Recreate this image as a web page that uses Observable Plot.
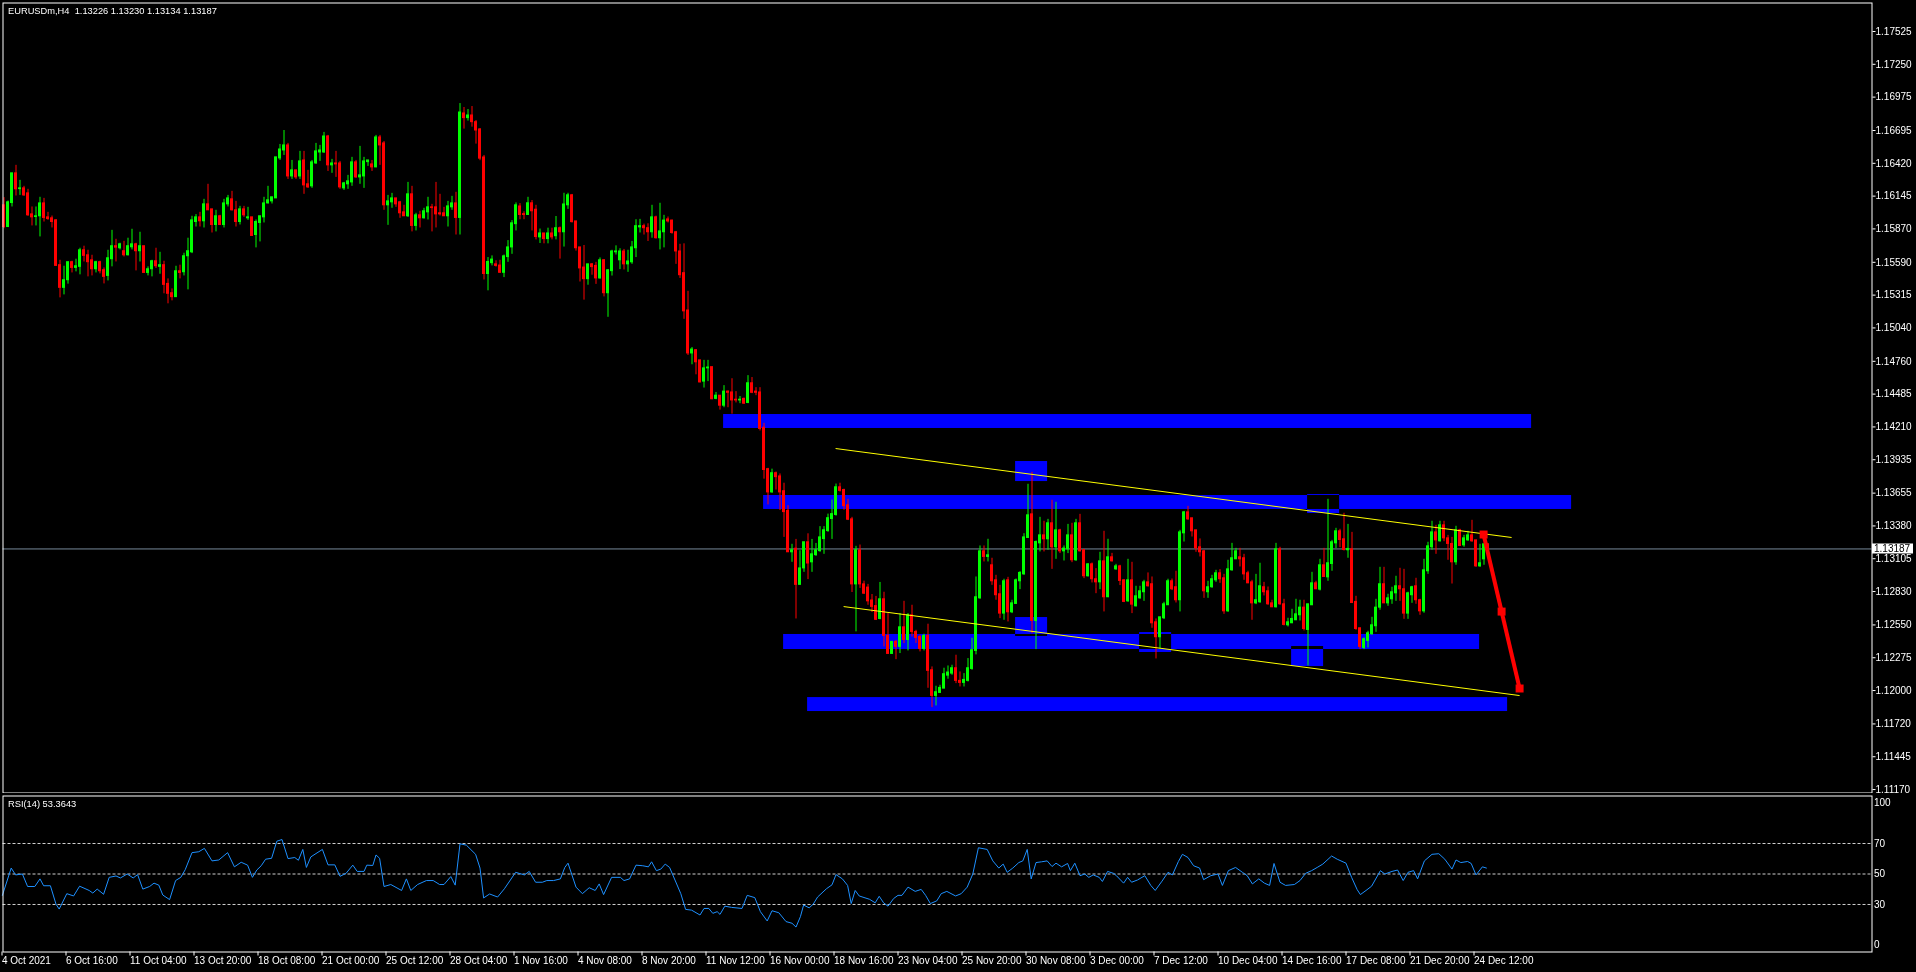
<!DOCTYPE html>
<html><head><meta charset="utf-8">
<script src="https://cdn.jsdelivr.net/npm/d3@7"></script>
<script src="https://cdn.jsdelivr.net/npm/@observablehq/plot@0.6"></script>
<style>
html,body{margin:0;padding:0;background:#000;}
#wrap{position:relative;width:1916px;height:972px;background:#000;overflow:hidden;}
#main,#rsi{position:absolute;left:0;}
#main{top:0;} #rsi{top:793px;}
svg text{white-space:pre;}
</style></head><body>
<div id="wrap"><div id="main"></div><div id="rsi"></div></div>
<script>
// ---------- DATA ----------
const symbolTitle = "EURUSDm,H4  1.13226 1.13230 1.13134 1.13187";
const rsiTitle = "RSI(14) 53.3643";
const currentPrice = 1.13187;

const priceTicks = [1.17525,1.17250,1.16975,1.16695,1.16420,1.16145,1.15870,1.15590,1.15315,1.15040,1.14760,1.14485,1.14210,1.13935,1.13655,1.13380,1.13105,1.12830,1.12550,1.12275,1.12000,1.11720,1.11445,1.11170];
const rsiLevels = [30, 50, 70];
const dateTickBars = [0,16,32,48,64,80,96,112,128,144,160,176,192,208,224,240,256,272,288,304,320,336,352,368];
const dateTickLabels = ["4 Oct 2021","6 Oct 16:00","11 Oct 04:00","13 Oct 20:00","18 Oct 08:00","21 Oct 00:00","25 Oct 12:00","28 Oct 04:00","1 Nov 16:00","4 Nov 08:00","8 Nov 20:00","11 Nov 12:00","16 Nov 00:00","18 Nov 16:00","23 Nov 04:00","25 Nov 20:00","30 Nov 08:00","3 Dec 00:00","7 Dec 12:00","10 Dec 04:00","14 Dec 16:00","17 Dec 08:00","21 Dec 20:00","24 Dec 12:00"];

// H4 candles, prices in points (1e-5)
const openPts = [
116068,115886,116087,116336,116204,116210,116168,115992,115970,115976,
116084,115967,115959,115942,115566,115376,115440,115591,115543,115552,
115691,115649,115607,115532,115591,115524,115476,115616,115725,115708,
115683,115649,115716,115741,115683,115725,115501,115532,115599,115552,
115566,115409,115331,115298,115515,115507,115641,115674,115928,115967,
115934,116076,116034,115903,115976,115903,116076,116118,116026,115928,
116034,115959,115967,115819,115920,115967,116084,116101,116126,116461,
116528,116570,116310,116361,116310,116444,116244,116227,116419,116511,
116511,116645,116403,116419,116419,116210,116244,116260,116428,116302,
116310,116430,116411,116386,116637,116587,116068,116093,116126,116093,
116009,115976,116160,115895,115984,115959,116009,116051,116051,116001,
116001,115976,116051,116084,115962,116838,116799,116821,116765,116704,
116469,115492,115583,115573,115563,115502,115634,115715,115910,116058,
115994,115987,116085,116031,115799,115832,115785,115832,115809,115876,
115842,116068,116152,115933,115715,115546,115449,115573,115560,115455,
115607,115331,115516,115674,115607,115681,115573,115590,115708,115883,
115893,115876,115842,115967,115792,115842,115950,115940,115842,115681,
115499,115186,114826,114853,114768,114590,114701,114711,114445,114472,
114388,114506,114499,114438,114432,114445,114411,114576,114506,114499,
114203,113856,113661,113822,113795,113671,113506,113159,113189,112886,
113024,113243,113075,113135,113169,113270,113337,113438,113472,113704,
113681,113553,113435,112890,113176,112890,112863,112755,112708,112600,
112765,112458,112307,112408,112366,112530,112424,112631,112491,112449,
112349,112458,112170,111955,111980,112016,112125,112142,112187,112081,
112064,112081,112181,112332,112773,113167,113120,113050,112924,112807,
112645,112924,112656,112726,112916,112974,113279,113477,112583,113234,
113301,113268,113402,113201,113343,113167,113184,113301,113092,113402,
113176,112958,113058,112933,112907,113083,112782,113117,113016,113041,
112924,112748,112924,112706,112773,112824,112907,112891,112572,112447,
112606,112715,112916,112866,112757,113318,113494,113444,113343,113201,
113167,112824,112866,112924,112983,112941,112664,113008,113100,113117,
113109,112983,112907,112731,112740,112866,112832,112731,112698,113184,
112723,112547,112564,112589,112631,112695,112508,112715,112899,112846,
113050,112949,113061,113234,113335,113268,113176,113184,112743,112522,
112357,112416,112472,112539,112695,112891,112731,112765,112815,112874,
112849,112645,112799,112874,112757,112664,113000,113201,113326,113251,
113385,113276,113229,113075,113343,113217,113259,113301,113259,113041,
113100,113226];
const highPts = [
116132,116104,116336,116403,116277,116227,116202,116054,116054,116135,
116126,116009,115978,115948,115607,115557,115591,115599,115616,115708,
115725,115691,115649,115599,115599,115543,115691,115858,115783,115750,
115766,115792,115867,115750,115842,115725,115552,115607,115708,115674,
115599,115451,115367,115557,115566,115666,115792,115976,115990,116009,
116118,116244,116034,116026,115984,116118,116151,116185,116101,116059,
116059,116051,115967,115945,115976,116135,116227,116135,116470,116578,
116695,116587,116444,116361,116520,116520,116361,116444,116587,116570,
116679,116654,116453,116520,116436,116260,116319,116470,116444,116562,
116470,116444,116444,116654,116654,116603,116151,116168,116126,116101,
116068,116260,116227,116001,116018,116043,116135,116076,116260,116160,
116051,116101,116143,116177,116921,116888,116871,116896,116779,116711,
116486,115630,115644,115603,115607,115651,115772,115940,116088,116082,
116014,116135,116108,116068,115869,115832,115876,115876,115974,115886,
116169,116169,116159,115933,115715,115731,115573,115580,115590,115627,
115613,115529,115691,115728,115704,115698,115691,115765,115947,115950,
115910,115913,116068,115977,116085,115984,115970,115943,115849,115741,
115745,115347,114876,114859,114768,114768,114768,114711,114499,114472,
114556,114512,114614,114506,114465,114452,114640,114624,114539,114539,
114240,113863,113856,113832,113816,113738,113550,113226,113267,113172,
113243,113314,113267,113233,113374,113374,113479,113597,113731,113738,
113688,113603,113452,113209,113220,112917,112890,112805,112789,112906,
112824,112645,112408,112421,112645,112748,112645,112715,112505,112463,
112472,112556,112198,112036,112044,112187,112206,112212,112296,112156,
112142,112268,112438,112952,113212,113212,113268,113109,112966,112882,
112933,112949,112757,112935,112997,113315,113729,113829,113254,113452,
113419,113435,113595,113578,113352,113212,113393,113402,113435,113477,
113184,113064,113069,113022,113159,113335,113268,113150,113058,113050,
112930,113100,113075,112874,112874,112924,112986,112952,112600,112614,
112740,112933,112935,113000,113343,113502,113544,113444,113343,113271,
113176,112916,112966,113008,113014,112974,113092,113234,113192,113192,
113142,113000,112924,112974,113067,112907,112868,112757,113234,113201,
112765,112606,112681,112765,112757,112757,112723,112991,112916,113100,
113192,113603,113259,113360,113352,113486,113393,113326,112790,112522,
112441,112497,112614,112765,113033,113033,112807,112866,112958,113025,
113016,112824,112874,112941,112765,113100,113243,113419,113385,113419,
113419,113301,113284,113377,113352,113301,113335,113427,113259,113226,
113226,113230];
const lowPts = [
115872,115881,116054,116146,116151,116143,115976,115895,115895,115803,
115928,115942,115878,115557,115292,115317,115407,115501,115510,115485,
115593,115468,115476,115501,115493,115409,115434,115552,115593,115694,
115635,115644,115694,115518,115593,115496,115476,115468,115538,115490,
115326,115242,115267,115298,115451,115476,115359,115663,115886,115886,
115878,116026,115836,115845,115898,115878,116054,116020,115886,115903,
115967,115942,115808,115711,115761,115920,116079,116079,116126,116444,
116486,116285,116285,116285,116285,116160,116210,116210,116411,116436,
116503,116352,116336,116302,116202,116193,116202,116227,116294,116244,
116210,116394,116352,116383,116403,116026,115900,116043,116051,115959,
115976,115967,115845,115853,115878,115953,115945,115845,115878,115978,
115976,115886,116026,115819,115819,116707,116774,116723,116581,116442,
115442,115351,115560,115550,115499,115462,115590,115657,115853,115947,
115947,115984,115853,115778,115748,115745,115745,115778,115778,115617,
115718,116034,115920,115684,115425,115273,115398,115482,115405,115449,
115300,115129,115475,115651,115529,115526,115506,115573,115630,115836,
115819,115765,115792,115785,115694,115711,115920,115826,115573,115455,
115112,114809,114731,114647,114580,114536,114590,114438,114438,114351,
114371,114371,114317,114411,114405,114398,114405,114489,114472,114176,
113772,113556,113654,113681,113509,113284,113159,113075,112600,112886,
112991,112930,112991,113125,113159,113142,113327,113267,113462,113664,
113512,113425,112822,112492,112856,112805,112715,112654,112587,112593,
112366,112304,112304,112259,112310,112394,112332,112449,112394,112324,
112332,112019,111857,111871,111975,112016,112095,112128,112058,112030,
112030,112072,112170,112299,112765,113078,113078,112882,112757,112603,
112589,112575,112645,112723,112846,112966,113276,112477,112343,113162,
113162,113176,113016,113100,113148,113086,113148,113072,113083,113162,
112938,112952,112902,112812,112846,112659,112779,113078,113008,112880,
112737,112740,112645,112701,112765,112748,112868,112522,112265,112349,
112595,112715,112838,112734,112659,113245,113427,113287,113159,113120,
112773,112773,112857,112907,112899,112639,112656,113000,113100,113036,
112924,112896,112589,112720,112731,112793,112715,112695,112692,112715,
112542,112533,112561,112589,112583,112500,112206,112712,112846,112835,
112952,112916,113000,113190,113198,113170,113109,112729,112505,112343,
112343,112357,112463,112488,112673,112729,112706,112723,112748,112748,
112597,112597,112731,112723,112631,112648,112974,113176,113142,113245,
113248,113092,112893,113050,113209,113201,113251,113243,113033,113033,
113050,113134];
const closePts = [
115886,116093,116336,116202,116210,116151,115984,115967,115976,116084,
115962,115953,115928,115560,115376,115440,115591,115543,115557,115691,
115644,115591,115532,115591,115515,115468,115624,115725,115713,115741,
115649,115725,115741,115683,115725,115501,115532,115599,115557,115566,
115401,115326,115298,115515,115501,115641,115683,115942,115967,115934,
116076,116026,115903,115976,115903,116084,116126,116026,115928,116034,
115984,115967,115811,115928,115976,116084,116110,116135,116470,116536,
116570,116310,116361,116302,116436,116235,116218,116428,116520,116528,
116645,116403,116419,116411,116218,116252,116269,116428,116302,116319,
116436,116444,116386,116637,116570,116068,116101,116126,116076,116001,
115976,116160,115895,115984,115959,116018,116051,116045,115992,115992,
115976,116059,116084,115962,116846,116799,116821,116765,116695,116459,
115492,115593,115613,115560,115502,115640,115715,115917,116068,115987,
115987,116085,116018,115802,115832,115785,115832,115799,115876,115842,
116075,116152,115927,115708,115539,115449,115573,115550,115455,115607,
115331,115523,115681,115681,115681,115573,115597,115715,115893,115893,
115876,115842,115967,115792,115849,115940,115933,115836,115681,115482,
115179,114826,114859,114752,114583,114701,114708,114442,114472,114388,
114506,114496,114432,114432,114438,114405,114576,114496,114496,114193,
113849,113661,113822,113789,113661,113496,113159,113176,112886,113024,
113243,113065,113142,113176,113284,113344,113445,113479,113704,113674,
113546,113432,112890,113176,112890,112812,112748,112701,112593,112765,
112458,112307,112408,112366,112530,112424,112631,112491,112441,112349,
112458,112165,111955,111986,112022,112137,112151,112187,112081,112064,
112089,112187,112338,112782,113167,113120,113134,112916,112799,112645,
112916,112656,112731,112924,112986,113284,113469,112583,113245,113301,
113268,113402,113201,113343,113167,113190,113301,113092,113402,113167,
112958,113058,112933,112907,113083,112782,113117,113083,113041,112919,
112743,112924,112720,112790,112832,112907,112874,112564,112447,112614,
112723,112916,112849,112757,113326,113494,113435,113335,113192,113159,
112832,112866,112933,112983,112933,112664,113016,113109,113167,113100,
112974,112899,112731,112757,112874,112824,112723,112698,113184,112723,
112550,112572,112600,112639,112695,112516,112723,112899,112849,113050,
112952,113067,113243,113335,113262,113178,113187,112734,112516,112366,
112430,112480,112547,112695,112891,112731,112773,112824,112874,112849,
112645,112815,112866,112757,112664,113008,113209,113326,113259,113385,
113276,113229,113075,113343,113212,113276,113301,113251,113041,113067,
113226,113187];

// RSI(14) line, read at its vertices (bar position, value)
const rsiBar = [-0.4,1.8,2.9,4.6,5.9,7.7,9.0,9.9,11.6,13.0,13.8,15.7,17.4,18.9,21.3,22.2,23.3,24.9,26.3,28.0,29.1,30.8,32.3,33.4,34.7,36.4,37.5,38.7,39.7,41.4,42.9,44.2,45.3,47.0,48.7,50.1,52.0,53.7,55.9,57.6,59.3,60.9,62.1,63.2,64.3,65.4,66.9,68.2,69.5,71.0,72.7,73.6,74.7,75.6,76.7,79.6,81.0,82.7,84.0,85.5,87.2,88.3,90.0,90.7,92.2,93.0,93.9,95.0,96.7,99.4,100.6,101.7,103.4,105.6,107.3,108.9,110.0,111.7,112.8,114.0,115.6,117.9,119.0,119.9,121.4,123.4,125.1,127.9,130.1,131.3,132.9,134.6,135.7,137.4,139.1,140.2,141.0,143.0,144.6,146.3,147.8,148.8,149.9,151.9,154.1,155.0,156.4,158.0,159.7,161.1,161.9,163.1,164.2,165.3,166.4,169.2,
170.4,171.9,174.0,175.0,176.2,177.2,178.3,179.0,180.2,181.9,184.5,185.8,187.7,189.1,190.8,192.0,193.7,195.5,197.0,198.0,199.1,199.9,201.3,202.3,203.4,205.6,207.0,208.0,209.6,210.9,211.8,212.8,213.8,216.4,217.8,218.8,219.9,221.0,222.4,223.5,224.5,226.0,227.8,229.3,230.4,231.6,233.2,234.3,235.7,237.9,239.3,240.8,242.2,243.6,245.8,247.2,248.7,249.8,250.8,252.2,253.7,254.7,255.8,256.8,258.0,259.4,260.8,262.0,263.0,264.4,265.9,266.6,267.7,269.0,270.2,271.2,272.3,273.8,274.6,275.9,277.4,278.1,279.9,280.9,281.9,283.4,285.2,286.7,287.8,289.5,291.0,292.1,293.6,294.6,296.0,297.4,298.9,299.9,301.7,303.5,304.6,306.1,307.9,309.6,310.8,312.1,313.7,315.1,316.4,317.5,319.0,320.4,322.6,324.0,325.4,326.9,328.3,329.7,331.9,333.3,335.5,336.9,338.3,339.1,340.5,341.9,344.1,345.2,347.0,348.4,349.8,351.0,352.4,353.4,355.1,357.0,358.7,360.2,362.0,363.0,364.2,365.9,366.8,368.0,369.6,370.6];
const rsiValue = [36.0,53.9,49.4,50.0,41.8,41.8,46.8,42.3,42.3,30.2,27.0,37.1,35.6,42.0,39.2,37.5,40.1,36.7,47.8,48.7,47.4,50.0,47.4,49.6,40.1,41.8,44.0,42.7,36.2,33.2,45.7,47.8,52.8,64.0,64.6,66.8,58.6,59.2,64.0,54.7,57.7,55.8,47.8,52.6,55.4,59.7,60.3,71.5,72.6,60.1,60.8,59.0,66.1,54.3,61.2,66.1,56.0,56.0,48.5,50.4,55.8,51.7,51.7,55.8,55.6,62.5,60.3,41.8,43.1,39.2,46.8,39.2,43.1,45.7,45.7,43.1,43.1,48.3,42.7,69.8,68.9,62.9,53.9,34.3,36.9,34.9,40.3,51.1,49.4,51.7,44.6,44.6,45.7,45.7,46.8,54.3,57.1,41.4,37.1,41.0,39.2,43.5,36.5,47.8,47.8,45.7,46.8,55.8,55.4,54.7,58.0,52.2,53.2,56.5,54.3,37.1,
26.8,26.3,23.1,27.4,27.4,24.2,25.3,23.5,28.9,28.1,27.4,36.0,34.5,25.3,19.2,25.9,24.6,18.8,17.7,15.2,22.0,29.6,27.8,30.2,34.9,40.3,42.9,49.6,46.8,42.5,30.6,39.2,35.6,33.4,31.1,35.4,31.1,28.9,33.9,36.0,36.0,41.4,38.6,39.9,36.0,30.6,32.4,37.1,38.6,35.6,37.1,41.4,50.0,67.2,66.1,58.6,53.9,56.5,51.1,53.9,57.5,58.6,66.1,46.8,57.5,58.0,58.6,54.9,57.1,54.7,56.9,52.2,57.1,48.9,50.0,47.8,49.4,47.8,45.1,51.7,50.4,48.9,44.0,47.8,44.6,46.1,48.9,42.5,39.2,45.3,51.1,49.4,58.2,62.9,60.8,55.4,53.9,46.3,48.9,50.0,42.5,52.2,54.3,51.1,48.9,43.5,46.8,44.0,42.5,56.9,44.6,42.5,43.1,45.7,50.4,52.2,54.3,56.5,61.8,59.7,57.1,47.8,39.7,36.5,39.2,42.0,52.2,50.0,51.7,52.6,45.7,51.1,52.2,46.8,58.6,62.9,63.3,59.7,53.2,59.2,57.5,58.2,56.9,49.4,54.7,53.9];

// Drawn objects: zones (bar from, bar to, price low, price high)
const zoneFrom = [179.9, 189.9, 194.9, 200.9];
const zoneTo   = [381.9, 391.9, 368.9, 375.9];
const zoneLow  = [1.14197, 1.13518, 1.12344, 1.11824];
const zoneHigh = [1.14314, 1.13635, 1.12470, 1.11941];
// small boxes
const boxFrom = [252.9, 252.9, 283.9, 325.9, 321.9];
const boxTo   = [260.9, 260.9, 291.9, 333.9, 329.9];
const boxLow  = [1.13752, 1.12453, 1.12319, 1.13484, 1.12201];
const boxHigh = [1.13920, 1.12612, 1.12486, 1.13643, 1.12369];
// channel trend lines
const trendFromBar = [207.9, 209.9];
const trendFromPrice = [1.14029, 1.12704];
const trendToBar = [376.9, 378.9];
const trendToPrice = [1.13283, 1.11958];
// projected move (red)
const moveBars = [369.9, 374.4, 378.9];
const movePrices = [1.13308, 1.12662, 1.12017];

// ---------- BUILD ----------
const BULL = "#00ff00", BEAR = "#ff0000";
const candles = closePts.map((c, i) => {
  const o = openPts[i] / 1e5, cl = c / 1e5;
  return {i, o, h: highPts[i] / 1e5, l: lowPts[i] / 1e5, c: cl, col: cl >= o ? BULL : BEAR};
});
const zones = zoneFrom.map((f, k) => ({f, t: zoneTo[k], lo: zoneLow[k], hi: zoneHigh[k]}));
const boxes = boxFrom.map((f, k) => ({f, t: boxTo[k], lo: boxLow[k], hi: boxHigh[k]}));
const trends = trendFromBar.map((b, k) => ({b1: b, p1: trendFromPrice[k], b2: trendToBar[k], p2: trendToPrice[k]}));
const movePts = moveBars.map((b, k) => ({b, p: movePrices[k]}));
const moveSeg = [{b1: moveBars[0], p1: movePrices[0], b2: moveBars[2], p2: movePrices[2]}];
const rsiPts = rsiBar.map((b, k) => ({b, v: rsiValue[k]}));
const labelOf = new Map(dateTickBars.map((b, k) => [b, dateTickLabels[k]]));

const FONT = "'Liberation Sans', Arial, sans-serif";
const xDomain = [-0.25, 467];
const baseStyle = {background: "#000", color: "#fff", fontFamily: FONT, fontSize: "10px", overflow: "visible"};

const mainPlot = Plot.plot({
  width: 1916, height: 795,
  marginLeft: 2.5, marginRight: 44.5, marginTop: 2.5, marginBottom: 2.5,
  x: {domain: xDomain, axis: null, label: null},
  y: {domain: [1.11141, 1.17764], axis: null, label: null},
  color: {type: "identity"},
  style: baseStyle,
  marks: [
    Plot.rect(zones, {x1: "f", x2: "t", y1: "lo", y2: "hi", fill: "#0000ff"}),
    Plot.rect(boxes, {x1: "f", x2: "t", y1: "lo", y2: "hi", fill: "#0000ff", mixBlendMode: "difference"}),
    Plot.ruleY([currentPrice], {stroke: "#778899"}),
    Plot.ruleX(candles, {x: "i", y1: "l", y2: "h", stroke: "col"}),
    Plot.rect(candles, {x1: d => d.i - 0.375, x2: d => d.i + 0.375, y1: "o", y2: "c", fill: "col", insetTop: -0.5, insetBottom: -0.5}),
    Plot.link(trends, {x1: "b1", y1: "p1", x2: "b2", y2: "p2", stroke: "#ffff00", strokeWidth: 1}),
    Plot.link(moveSeg, {x1: "b1", y1: "p1", x2: "b2", y2: "p2", stroke: "#ff0000", strokeWidth: 4}),
    Plot.dot(movePts, {x: "b", y: "p", symbol: "square", r: 4.5, fill: "#ff0000"}),
    Plot.frame({stroke: "#fff"}),
    Plot.axisY(priceTicks, {anchor: "right", label: null, tickSize: 3, tickPadding: 0.5, tickFormat: d => d.toFixed(5), stroke: "#fff", fill: "#fff"}),
    Plot.text([symbolTitle], {frameAnchor: "top-left", dx: 5, dy: 4.5, textAnchor: "start", lineAnchor: "top", fill: "#fff", fontSize: 9.3})
  ]
});
mainPlot.style.display = "block";
document.getElementById("main").appendChild(mainPlot);

// current-price label box on the price scale, placed with the plot's own y scale
{
  const yPix = mainPlot.scale("y").apply(currentPrice);
  const x0 = 1916 - 44.5 + 0.5;
  const g = d3.select(mainPlot).append("g").attr("text-anchor", "start");
  g.append("rect").attr("x", x0).attr("y", Math.round(yPix) - 4.5).attr("width", 41).attr("height", 10).attr("fill", "#ffffff");
  g.append("text").attr("x", x0 + 2).attr("y", yPix).attr("dy", "0.36em").attr("text-anchor", "start")
    .style("fill", "#000000").style("font-size", "10px").style("font-family", FONT)
    .text(currentPrice.toFixed(5));
}

const rsiPlot = Plot.plot({
  width: 1916, height: 179,
  marginLeft: 2.5, marginRight: 44.5, marginTop: 2.5, marginBottom: 20.5,
  x: {domain: xDomain, label: null},
  y: {domain: [-1.15, 101.15], axis: null, label: null},
  style: baseStyle,
  marks: [
    Plot.ruleY(rsiLevels, {stroke: "#cfcfcf", strokeDasharray: "3,2"}),
    Plot.line(rsiPts, {x: "b", y: "v", stroke: "#1e90ff", strokeWidth: 1}),
    Plot.frame({stroke: "#fff"}),
    Plot.axisX(dateTickBars, {anchor: "bottom", label: null, tickSize: 4, tickPadding: 1, tickFormat: d => labelOf.get(d), textAnchor: "start", dx: -2, stroke: "#fff", fill: "#fff"}),
    Plot.text([100], {frameAnchor: "right", y: d => d, text: d => String(d), dx: 2, dy: 5, textAnchor: "start", fill: "#fff"}),
    Plot.text(rsiLevels, {frameAnchor: "right", y: d => d, text: d => String(d), dx: 2, textAnchor: "start", fill: "#fff"}),
    Plot.text([0], {frameAnchor: "right", y: d => d, text: d => String(d), dx: 2, dy: -5.5, textAnchor: "start", fill: "#fff"}),
    Plot.text([rsiTitle], {frameAnchor: "top-left", dx: 5, dy: 4.4, textAnchor: "start", lineAnchor: "top", fill: "#fff", fontSize: 9.3})
  ]
});
rsiPlot.style.display = "block";
document.getElementById("rsi").appendChild(rsiPlot);
</script>
</body></html>
